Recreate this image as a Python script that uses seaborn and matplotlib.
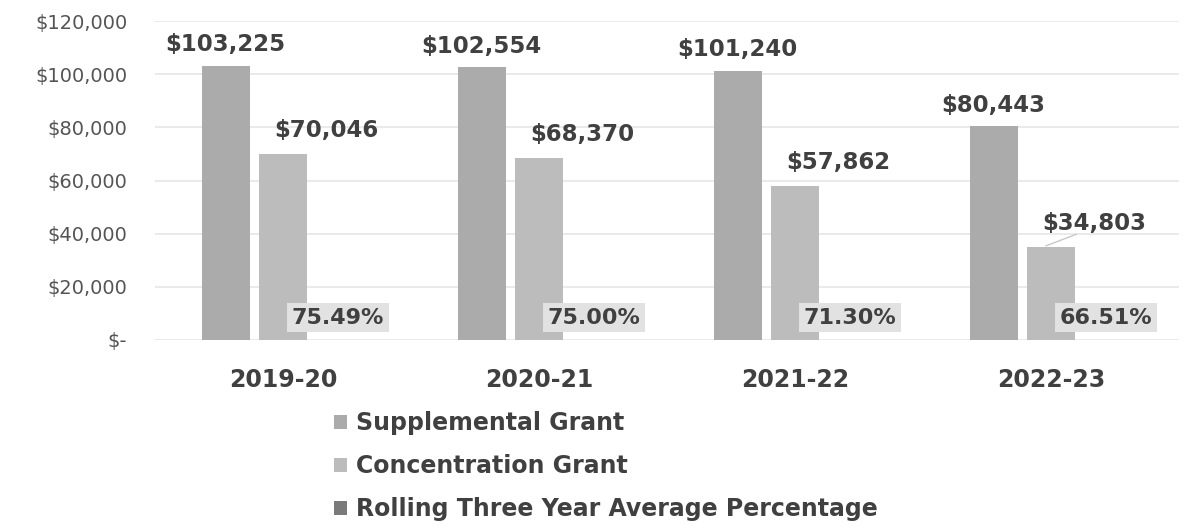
import matplotlib
matplotlib.use("Agg")
import matplotlib.pyplot as plt
import seaborn as sns
import pandas as pd
from matplotlib.patches import Patch

years = ["2019-20", "2020-21", "2021-22", "2022-23"]
supplemental = [103225, 102554, 101240, 80443]
concentration = [70046, 68370, 57862, 34803]
rolling_pct = [75.49, 75.00, 71.30, 66.51]
series_names = ["Supplemental Grant", "Concentration Grant",
                "Rolling Three Year Average Percentage"]
y_ticks = [0, 20000, 40000, 60000, 80000, 100000, 120000]
y_tick_labels = ["$-", "$20,000", "$40,000", "$60,000", "$80,000",
                 "$100,000", "$120,000"]

rows = []
for i, y in enumerate(years):
    rows.append((y, series_names[0], supplemental[i]))
    rows.append((y, series_names[1], concentration[i]))
    rows.append((y, series_names[2], rolling_pct[i] / 100.0))
df = pd.DataFrame(rows, columns=["Year", "Series", "Value"])

sns.set_theme(style="white")
plt.rcParams["font.family"] = ["DejaVu Sans"]

colors = ["#ababab", "#bcbcbc", "#8c8c8c"]

fig = plt.figure(figsize=(12.04, 5.29), dpi=100)
ax = fig.add_axes([155 / 1204, 1 - 340 / 529, 1024 / 1204, 319 / 529])

sns.barplot(data=df, x="Year", y="Value", hue="Series", order=years,
            hue_order=series_names, palette=colors, width=0.67, gap=0.17,
            legend=False, ax=ax, edgecolor="none")

ax.set_ylim(0, 120000)
ax.set_xlim(-0.5, 3.5)
ax.set_yticks(y_ticks)
ax.set_yticklabels(y_tick_labels, fontsize=14, color="#555555")
ax.yaxis.grid(True, color="#e6e6e6", linewidth=1.2)
ax.set_axisbelow(True)
for s in ax.spines.values():
    s.set_visible(False)
ax.tick_params(axis="y", length=0, pad=20)
ax.tick_params(axis="x", length=0, pad=20)
ax.set_xlabel("")
ax.set_ylabel("")
for lbl in ax.get_xticklabels():
    lbl.set_fontsize(17)
    lbl.set_fontweight("bold")
    lbl.set_color("#404040")

off = 0.224
for i in range(len(years)):
    ax.text(i - off, supplemental[i] + 3600, f"${supplemental[i]:,}",
            ha="center", va="bottom", fontsize=16.5, fontweight="bold",
            color="#404040")
    ax.text(i + 0.17, concentration[i] + 4600, f"${concentration[i]:,}",
            ha="center", va="bottom", fontsize=16.5, fontweight="bold",
            color="#404040")
    ax.text(i + 0.215, 8400, f"{rolling_pct[i]:.2f}%", ha="center",
            va="center", fontsize=16, fontweight="bold", color="#404040",
            bbox=dict(boxstyle="square,pad=0.2", facecolor="#e2e2e2",
                      edgecolor="none"))
# leader line for last concentration label
ax.plot([3 - 0.02, 3 + 0.1], [concentration[3] + 600, concentration[3] + 5000],
        color="#c8c8c8", linewidth=1)

handles = [Patch(facecolor=colors[0], edgecolor="none"),
           Patch(facecolor=colors[1], edgecolor="none"),
           Patch(facecolor="#7a7a7a", edgecolor="none", hatch="xxx")]
leg = fig.legend(handles, series_names, loc="upper left",
                 bbox_to_anchor=(313 / 1204, 1 - 390 / 529), frameon=False,
                 ncol=1, handlelength=0.55, handleheight=0.55,
                 handletextpad=0.35, labelspacing=0.8,
                 prop=dict(size=17, weight="bold"))
for t in leg.get_texts():
    t.set_color("#404040")

fig.savefig("out.png", dpi=100, facecolor="white")
